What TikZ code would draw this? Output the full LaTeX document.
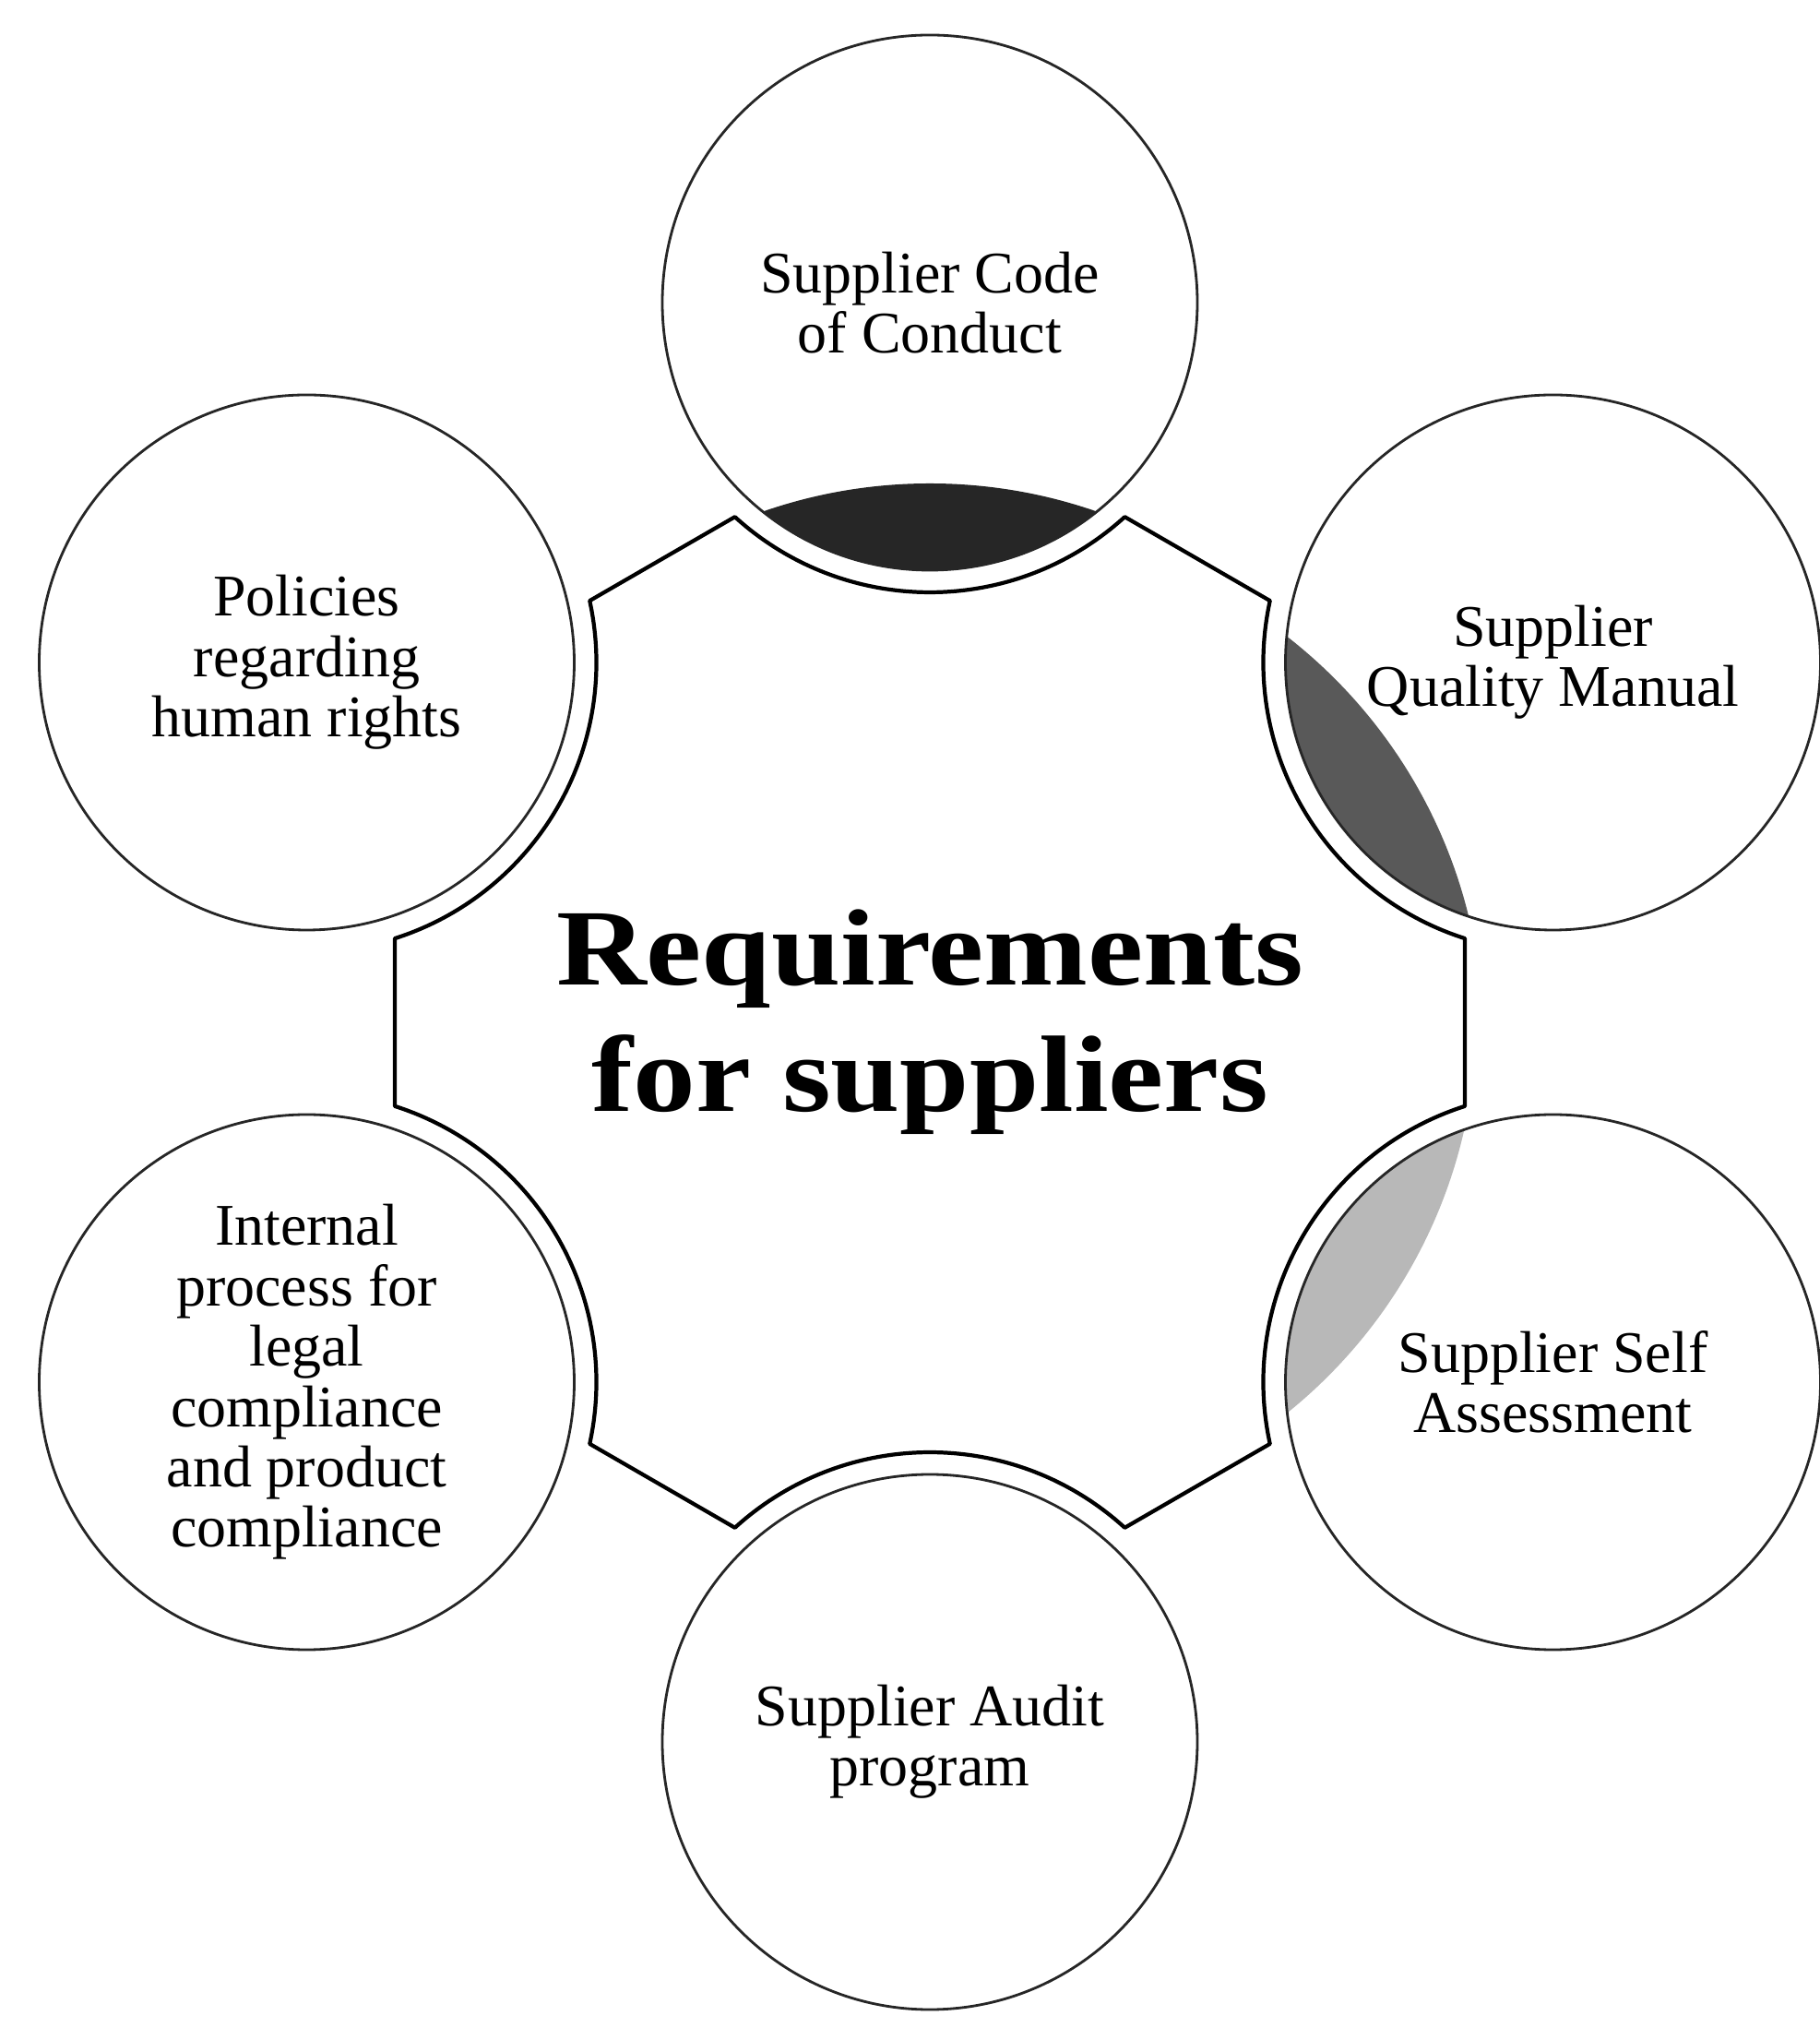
\documentclass[tikz,border=0pt]{standalone}
\usepackage{fontspec}
\setmainfont{Liberation Serif}
\newfontfamily\hubfont[FakeStretch=1.15]{Liberation Serif}
\usetikzlibrary{calc, backgrounds}

\begin{document}
\begin{tikzpicture}[
		topic/.style={draw=black!85, line width=0.8pt, circle, minimum size=5.8cm,
			inner sep=0pt, align=center, font=\fontsize{18.2}{18.6}\selectfont},
		hub/.style={align=center, font=\hubfont\bfseries\fontsize{33.5}{39}\selectfont},
		hubline/.style={line width=1.2pt, line join=round},
	]
		\useasboundingbox (-10.08,-10.90) rectangle (9.64,11.08);

		% Central shape with a hollow ring round each topic
		\draw[hubline] ($(30:7.8)+(252.3:3.14)$)
			\foreach \a in {30,90,...,330} {
				arc[start angle=\a+222.3, end angle=\a+137.7, radius=3.14]
				-- ($(\a+60:7.8)+(\a+282.3:3.14)$)
			} -- cycle;
		\node[hub] (hub) at (0,0) {Requirements\\for suppliers};

		% Topics
		\node[topic] (code) at (90:7.8) {Supplier Code\\of Conduct};
		\node[topic] (quality) at (30:7.8) {Supplier\\Quality Manual};
		\node[topic] (selfcheck) at (-30:7.8) {Supplier Self\\Assessment};
		\node[topic] (audit) at (-90:7.8) {Supplier Audit\\program};
		\node[topic] (legal) at (210:7.8) {Internal\\process for\\legal\\compliance\\and product\\compliance};
		\node[topic] (rights) at (150:7.8) {Policies\\regarding\\human rights};

		% Shadows on the side facing the hub
		\begin{scope}[on background layer]
			\foreach \n/\dir/\tone in {code/270/black!85, quality/213/black!65, selfcheck/148/black!28} {
				\begin{scope}
					\clip (\n.center) circle (2.9);
					\fill[\tone] ($(\n.center)+(\dir:7.46)$) circle (5.5);
				\end{scope}
			}
		\end{scope}
	\end{tikzpicture}
\end{document}
